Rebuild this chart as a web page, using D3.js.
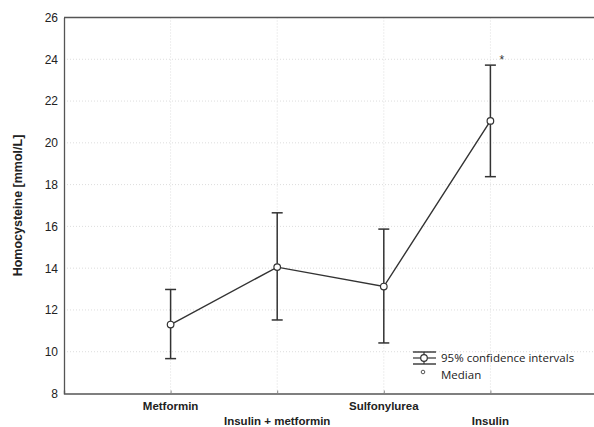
<!DOCTYPE html>
<html><head><meta charset="utf-8">
<script src="https://cdn.jsdelivr.net/npm/d3@7"></script>
<style>body{margin:0;background:#fff}</style>
</head><body>
<svg id="c" width="594" height="427"></svg>
<script>
const categories = ["Metformin", "Insulin + metformin", "Sulfonylurea", "Insulin"];
const medians = [11.3, 14.05, 13.12, 21.05];
const lowerCI = [9.67, 11.52, 10.42, 18.38];
const upperCI = [12.98, 16.65, 15.87, 23.72];
const yTicks = [8, 10, 12, 14, 16, 18, 20, 22, 24, 26];
const annotations = ["", "", "", "*"];

(function () {
const svg = d3.select("#c");
const pL = 64, pR = 597, pT = 17.5, pB = 393.5;
const x = d3.scaleLinear().domain([0, 5]).range([pL, pR]);
const y = d3.scaleLinear().domain([8, 26]).range([pB, pT]);

// grid
svg.append("g").selectAll("line").data(yTicks.slice(1, -1)).join("line")
  .attr("x1", pL).attr("x2", pR).attr("y1", d => y(d)).attr("y2", d => y(d))
  .attr("stroke", "#ddd").attr("stroke-width", 1).attr("stroke-dasharray", "1,2");
svg.append("g").selectAll("line").data(categories).join("line")
  .attr("x1", (d, i) => x(i + 1)).attr("x2", (d, i) => x(i + 1))
  .attr("y1", pT).attr("y2", pB)
  .attr("stroke", "#ddd").attr("stroke-width", 1).attr("stroke-dasharray", "1,2");

// axes
const yAxis = d3.axisLeft(y).tickValues(yTicks).tickSize(0).tickPadding(6);
const gy = svg.append("g").attr("transform", `translate(${pL},0)`).call(yAxis);
gy.select(".domain").attr("stroke", "#555").attr("stroke-width", 1.3);
gy.selectAll("text").attr("font-family", "Liberation Sans, Arial").attr("font-size", 12).attr("fill", "#222");

const xAxis = d3.axisBottom(x).tickValues([1, 2, 3, 4]).tickSize(-3).tickFormat("");
const gx = svg.append("g").attr("transform", `translate(0,${pB})`).call(xAxis);
gx.select(".domain").attr("stroke", "#555").attr("stroke-width", 1.3);
gx.selectAll(".tick line").attr("stroke", "#888");

svg.append("line").attr("x1", pL).attr("x2", pR).attr("y1", pT).attr("y2", pT)
  .attr("stroke", "#555").attr("stroke-width", 1.3);

svg.append("g").selectAll("text").data(categories).join("text")
  .attr("x", (d, i) => x(i + 1)).attr("y", (d, i) => i % 2 === 0 ? 410 : 425)
  .attr("text-anchor", "middle").attr("font-family", "Liberation Sans, Arial")
  .attr("font-weight", "bold").attr("font-size", 11.5).attr("fill", "#222").text(d => d);

svg.append("text").attr("transform", `translate(22,${(pT + pB) / 2}) rotate(-90)`)
  .attr("text-anchor", "middle").attr("font-family", "Liberation Sans, Arial")
  .attr("font-weight", "bold").attr("font-size", 12.5).attr("fill", "#222")
  .text("Homocysteine [mmol/L]");

// error bars
const eb = svg.append("g").attr("stroke", "#333").attr("stroke-width", 1.5);
categories.forEach((c, i) => {
  const cx = x(i + 1);
  eb.append("line").attr("x1", cx).attr("x2", cx).attr("y1", y(lowerCI[i])).attr("y2", y(upperCI[i]));
  eb.append("line").attr("x1", cx - 5.5).attr("x2", cx + 5.5).attr("y1", y(lowerCI[i])).attr("y2", y(lowerCI[i]));
  eb.append("line").attr("x1", cx - 5.5).attr("x2", cx + 5.5).attr("y1", y(upperCI[i])).attr("y2", y(upperCI[i]));
});

// line
svg.append("path").datum(medians)
  .attr("d", d3.line().x((d, i) => x(i + 1)).y(d => y(d)))
  .attr("fill", "none").attr("stroke", "#333").attr("stroke-width", 1.4);

svg.append("g").selectAll("circle").data(medians).join("circle")
  .attr("cx", (d, i) => x(i + 1)).attr("cy", d => y(d)).attr("r", 3.3)
  .attr("fill", "#fff").attr("stroke", "#333").attr("stroke-width", 1.2);

svg.append("g").selectAll("text").data(annotations).join("text")
  .attr("x", (d, i) => x(i + 1) + 9).attr("y", (d, i) => y(upperCI[i]) - 1)
  .attr("font-family", "Liberation Sans, Arial").attr("font-size", 12).attr("fill", "#333")
  .text(d => d);

// legend
const lg = svg.append("g");
const lx = 424, ly = 358;
lg.append("line").attr("x1", lx - 11).attr("x2", lx + 12).attr("y1", ly - 6).attr("y2", ly - 6).attr("stroke", "#333").attr("stroke-width", 1.4);
lg.append("line").attr("x1", lx - 11).attr("x2", lx + 12).attr("y1", ly + 6).attr("y2", ly + 6).attr("stroke", "#333").attr("stroke-width", 1.4);
lg.append("line").attr("x1", lx - 11).attr("x2", lx + 12).attr("y1", ly).attr("y2", ly).attr("stroke", "#333").attr("stroke-width", 1.2);
lg.append("line").attr("x1", lx).attr("x2", lx).attr("y1", ly - 6).attr("y2", ly + 6).attr("stroke", "#333").attr("stroke-width", 1.2);
lg.append("circle").attr("cx", lx).attr("cy", ly).attr("r", 3.3).attr("fill", "#fff").attr("stroke", "#333").attr("stroke-width", 1.2);
lg.append("circle").attr("cx", lx - 1).attr("cy", 372).attr("r", 1.8).attr("fill", "#fff").attr("stroke", "#555").attr("stroke-width", 1);
lg.append("text").attr("x", 441).attr("y", 362).attr("font-family", "Open Sans, Noto Sans").attr("font-size", 11.5).attr("fill", "#222").text("95% confidence intervals");
lg.append("text").attr("x", 441).attr("y", 379).attr("font-family", "Open Sans, Noto Sans").attr("font-size", 11.5).attr("fill", "#222").text("Median");
})();
</script>
</body></html>
